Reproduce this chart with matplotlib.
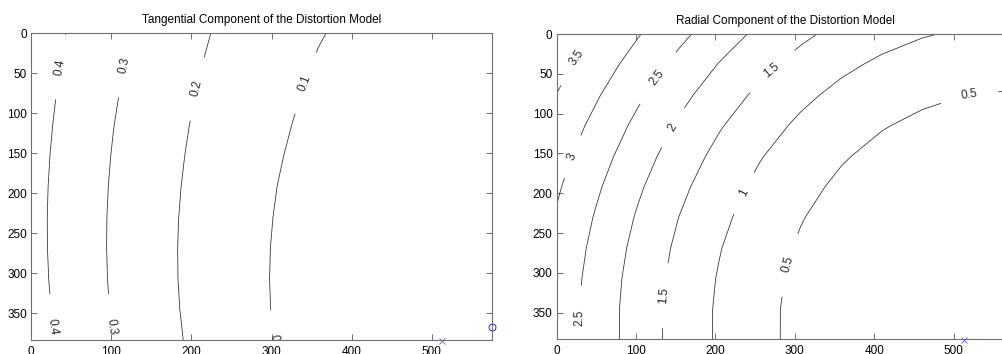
import numpy as np
import matplotlib
matplotlib.use("Agg")
import matplotlib.pyplot as plt

plt.rcParams["font.family"] = ["Liberation Sans", "DejaVu Sans"]

# Camera intrinsics (pixels) and distortion coefficients kc = [k1, k2, p1, p2, k3]
image_size = (1024, 768)
fc = (1000.0, 1000.0)
cc = (574.0, 366.0)
kc = (0.0212, -0.0195, -1.164e-4, 4.433e-4, 0.0)

tangential_levels = [0.1, 0.2, 0.3, 0.4]
radial_levels = [0.5, 1.0, 1.5, 2.0, 2.5, 3.0, 3.5]

x_ticks = [0, 100, 200, 300, 400, 500]
y_ticks = [0, 50, 100, 150, 200, 250, 300, 350]

tangential_label_spots = [(34, 42), (32, 366), (115, 40), (105, 366),
                          (204, 69), (339, 61), (304, 387)]
radial_label_spots = [(23, 28), (15, 152), (126, 54), (26, 357), (144, 116),
                      (271, 46), (131, 328), (234, 199), (520, 81), (286, 288)]

# Sample grid of pixel positions (same spacing as the calibration toolbox)
nx, ny = image_size
mx, my = np.meshgrid(np.arange(0, nx - 1 + 1e-9, nx / 20),
                     np.arange(0, ny - 1 + 1e-9, ny / 20))
xn = (mx - cc[0]) / fc[0]
yn = (my - cc[1]) / fc[1]
r2 = xn ** 2 + yn ** 2
k1, k2, p1, p2, k3 = kc

# Radial displacement magnitude in pixels
radial_factor = k1 * r2 + k2 * r2 ** 2 + k3 * r2 ** 3
dxr = fc[0] * xn * radial_factor
dyr = fc[1] * yn * radial_factor
radial_mag = np.hypot(dxr, dyr)

# Tangential displacement magnitude in pixels
dxt = fc[0] * (2 * p1 * xn * yn + p2 * (r2 + 2 * xn ** 2))
dyt = fc[1] * (p1 * (r2 + 2 * yn ** 2) + 2 * p2 * xn * yn)
tangential_mag = np.hypot(dxt, dyt)

fig = plt.figure(figsize=(10.03, 3.54), dpi=100)
ax1 = fig.add_axes([0.0309, 0.0395, 0.4596, 0.8672])
ax2 = fig.add_axes([0.555, 0.0415, 0.4552, 0.8624])

spine_col = "#6e6e6e"
line_col = "#2a2a2a"


def style_axes(ax, title):
    ax.set_xlim(0, 575)
    ax.set_ylim(383.5, 0)
    ax.set_xticks(x_ticks)
    ax.set_yticks(y_ticks)
    ax.tick_params(direction="in", length=4, width=0.7, color=spine_col,
                   top=True, right=True, labelsize=8.5, pad=4)
    ax.tick_params(axis="y", pad=3)
    for s in ax.spines.values():
        s.set_color(spine_col)
        s.set_linewidth(0.8)
    ax.set_title(title, fontsize=8.5, pad=7)


def fmt(v):
    return f"{v:g}"


def label_contours(ax, cs, spots):
    texts = ax.clabel(cs, manual=spots, inline=True, inline_spacing=9,
                      fontsize=8.5, fmt=fmt)
    # labels are turned the other way round on the reversed (ij) y axis
    for t in texts:
        t.set_rotation(-t.get_rotation())
        t.set_clip_on(True)
    return texts


def mark_centres(ax):
    ax.plot(cc[0] + 1, cc[1] + 1, "o", color="blue", ms=5, mfc="none",
            mew=0.6, clip_on=False)
    ax.plot((nx - 1) / 2 + 1, (ny - 1) / 2 + 1, "x", color="#5a5aff", ms=4,
            mew=0.6, clip_on=False)


cs1 = ax1.contour(mx, my, tangential_mag, levels=tangential_levels,
                  colors=line_col, linewidths=0.55)
label_contours(ax1, cs1, tangential_label_spots)
mark_centres(ax1)
style_axes(ax1, "Tangential Component of the Distortion Model")

cs2 = ax2.contour(mx, my, radial_mag, levels=radial_levels,
                  colors=line_col, linewidths=0.55)
label_contours(ax2, cs2, radial_label_spots)
mark_centres(ax2)
style_axes(ax2, "Radial Component of the Distortion Model")

fig.savefig("out.png", dpi=100)
